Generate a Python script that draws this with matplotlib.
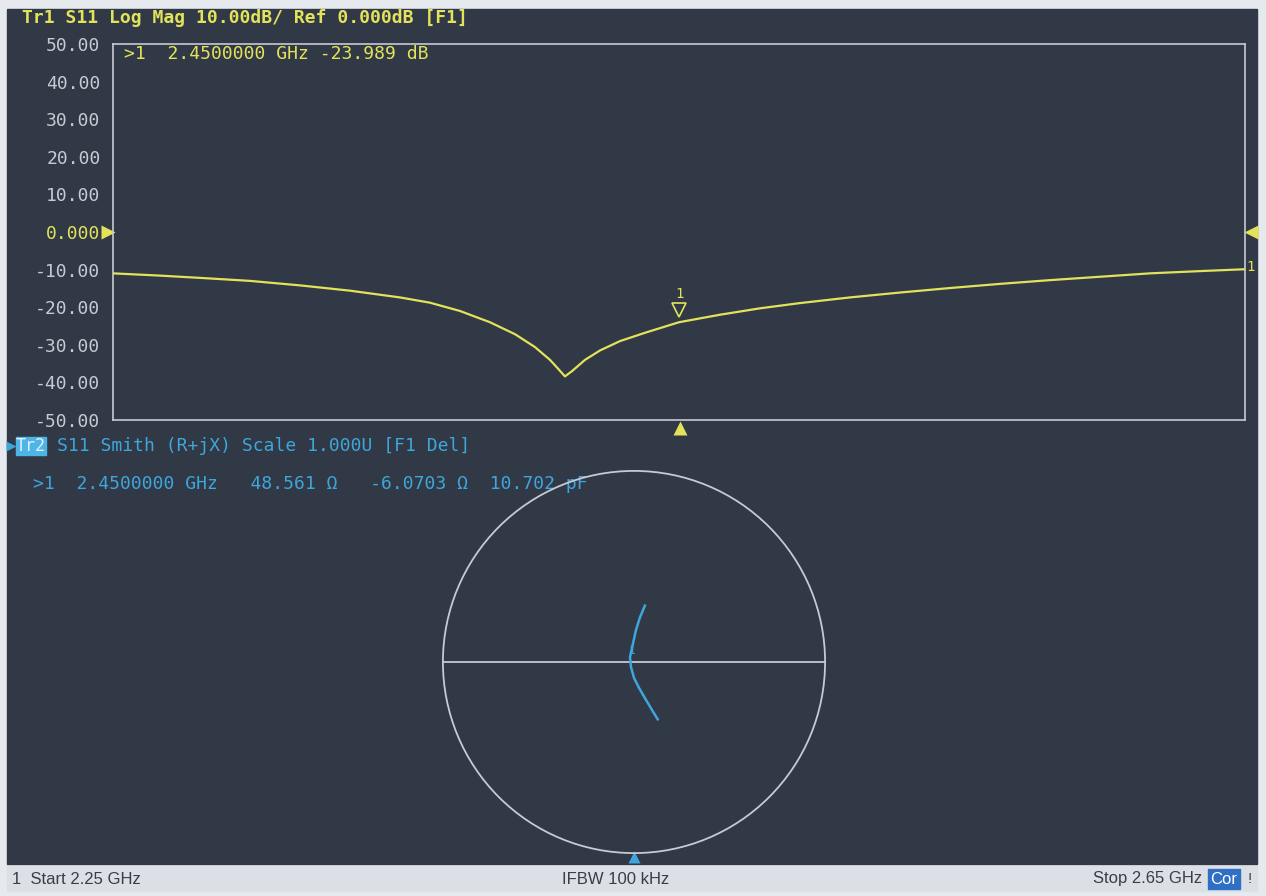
import numpy as np
import matplotlib
matplotlib.use("Agg")
import matplotlib.pyplot as plt
from matplotlib.patches import Rectangle, Circle
from matplotlib.transforms import offset_copy

# S11 log-mag trace (GHz, dB)
freq_ghz = [2.25, 2.2666, 2.2807, 2.2984, 2.3161, 2.3337, 2.3514, 2.3620,
            2.3726, 2.3832, 2.3921, 2.3991, 2.4044, 2.4072, 2.4097, 2.4122,
            2.4168, 2.4221, 2.4292, 2.4380, 2.45, 2.4645, 2.4786, 2.4928,
            2.5104, 2.5281, 2.5458, 2.5634, 2.5811, 2.5988, 2.6164, 2.6341, 2.65]
s11_db = [-11.0, -11.6, -12.2, -13.0, -14.2, -15.6, -17.4, -18.8,
          -21.0, -24.0, -27.2, -30.6, -34.0, -36.3, -38.4, -37.0,
          -34.0, -31.5, -29.0, -26.8, -24.0, -22.0, -20.3, -18.9,
          -17.4, -16.1, -14.9, -13.8, -12.8, -11.9, -11.0, -10.4, -9.9]
ytick_vals = [50, 40, 30, 20, 10, 0, -10, -20, -30, -40, -50]
ytick_text = ["50.00", "40.00", "30.00", "20.00", "10.00", "0.000",
              "-10.00", "-20.00", "-30.00", "-40.00", "-50.00"]

# Smith chart trace (reflection coefficient, real / imag)
gamma_re = [0.057, 0.031, 0.010, -0.005, -0.021, -0.016, 0.000, 0.026, 0.062, 0.093, 0.124]
gamma_im = [0.295, 0.233, 0.166, 0.098, 0.026, -0.026, -0.083, -0.135, -0.197, -0.249, -0.300]
marker_label_pos = (-0.012, 0.06)

W, H = 1266, 896
BG = "#313946"
YEL = "#e2e35a"
CYAN = "#3ea6dc"
GRID = "#c6cad2"
MONO = "DejaVu Sans Mono"

fig = plt.figure(figsize=(W / 100, H / 100), dpi=100, facecolor="#e6e9ee")

# full-figure pixel axes for panels and text
bg = fig.add_axes([0, 0, 1, 1])
bg.set_xlim(0, W)
bg.set_ylim(H, 0)
bg.axis("off")
bg.add_patch(Rectangle((7, 9), 1250, 855, color=BG, zorder=0))
bg.add_patch(Rectangle((7, 866), 1250, 25, color="#dcdfe6", zorder=0))


def frac(x0, y0, x1, y1):
    return [x0 / W, 1 - y1 / H, (x1 - x0) / W, (y1 - y0) / H]


# ---- upper plot: log magnitude ----
ax = fig.add_axes(frac(113, 44, 1245, 420))
ax.set_facecolor("none")
ax.plot(freq_ghz, s11_db, color=YEL, lw=1.6, zorder=3)
ax.set_xlim(2.25, 2.65)
ax.set_ylim(-50, 50)
for s in ax.spines.values():
    s.set_color(GRID)
    s.set_linewidth(1.2)
ax.set_xticks([])
ax.set_yticks(ytick_vals)
ax.set_yticklabels(ytick_text, fontfamily=MONO, fontsize=13)
ax.tick_params(axis="y", length=0, pad=9)
for lab, v in zip(ax.get_yticklabels(), ytick_vals):
    lab.set_color(YEL if v == 0 else GRID)

# marker 1 at 2.45 GHz
mk = s11_db[freq_ghz.index(2.45)]
up = offset_copy(ax.transData, fig=fig, x=0, y=12, units="dots")
ax.plot([2.45], [mk], marker="v", ms=10, mfc="none", mec=YEL, mew=1.2,
        transform=up, clip_on=False)
ax.text(2.45, mk, "1", transform=offset_copy(ax.transData, fig=fig, x=0, y=28, units="dots"),
        color=YEL, fontsize=10, fontfamily=MONO, ha="center", va="center")
ax.text(2.65, s11_db[-1], "1", transform=offset_copy(ax.transData, fig=fig, x=6, y=2, units="dots"),
        color=YEL, fontsize=10, fontfamily=MONO, ha="center", va="center", clip_on=False)

bg.text(22, 18, "Tr1 S11 Log Mag 10.00dB/ Ref 0.000dB [F1]", color=YEL,
        fontsize=13, fontfamily=MONO, va="center", weight="bold")
bg.text(124, 54, ">1  2.4500000 GHz -23.989 dB", color=YEL,
        fontsize=13, fontfamily=MONO, va="center")

# reference / stimulus triangles
bg.plot([108], [232], marker=">", ms=10, color=YEL, mec="none")
bg.plot([1251], [232], marker="<", ms=10, color=YEL, mec="none")
bg.plot([680], [428], marker="^", ms=10, color=YEL, mec="none")

# ---- lower plot: Smith chart ----
sm = fig.add_axes(frac(441, 469, 827, 855))
sm.set_facecolor("none")
sm.set_xlim(-1.01, 1.01)
sm.set_ylim(-1.01, 1.01)
sm.set_aspect("equal")
sm.axis("off")
sm.add_patch(Circle((0, 0), 1.0, fill=False, ec=GRID, lw=1.3))
sm.plot([-1, 1], [0, 0], color=GRID, lw=1.3)
sm.plot(gamma_re, gamma_im, color=CYAN, lw=1.8)
sm.text(marker_label_pos[0], marker_label_pos[1], "1", color=CYAN, fontsize=8,
        fontfamily=MONO, ha="center", va="center")

bg.plot([11], [446], marker=">", ms=7, color=CYAN, mec="none")
bg.add_patch(Rectangle((16, 437), 30, 18, color="#4fb4e6", zorder=2))
bg.text(31, 446, "Tr2", color="#dff4ff", fontsize=12, fontfamily=MONO,
        ha="center", va="center", zorder=3)
bg.text(57, 446, "S11 Smith (R+jX) Scale 1.000U [F1 Del]", color=CYAN,
        fontsize=13, fontfamily=MONO, va="center")
bg.text(33, 484, ">1  2.4500000 GHz   48.561 \u03a9   -6.0703 \u03a9  10.702 pF",
        color=CYAN, fontsize=13, fontfamily=MONO, va="center")
bg.plot([634], [857], marker="^", ms=8, color=CYAN, mec="none")

# ---- status bar ----
SANS = "Liberation Sans"
bg.text(12, 879, "1  Start 2.25 GHz", color="#3a3d44", fontsize=12, fontfamily=SANS, va="center")
bg.text(562, 879, "IFBW 100 kHz", color="#3a3d44", fontsize=12, fontfamily=SANS, va="center")
bg.text(1202, 879, "Stop 2.65 GHz", color="#3a3d44", fontsize=12, fontfamily=SANS,
        va="center", ha="right")
bg.add_patch(Rectangle((1208, 869), 32, 20, color="#2f6fc4", zorder=2))
bg.text(1224, 879, "Cor", color="white", fontsize=12, fontfamily=SANS,
        va="center", ha="center", zorder=3)
bg.text(1250, 879, "!", color="#3a3d44", fontsize=11, fontfamily=SANS, va="center", ha="center")

fig.savefig("out.png", dpi=100, facecolor=fig.get_facecolor())
